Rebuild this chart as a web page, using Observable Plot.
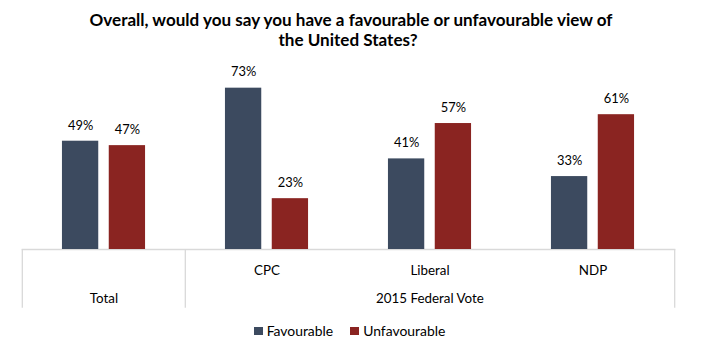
<!DOCTYPE html>
<html>
<head>
<meta charset="utf-8">
<script src="https://cdn.jsdelivr.net/npm/d3@7"></script>
<script src="https://cdn.jsdelivr.net/npm/@observablehq/plot@0.6"></script>
<style>
  html, body { margin: 0; padding: 0; background: #fff; }
  #chart { position: relative; width: 704px; height: 355px; overflow: hidden; }
  #chart > svg { position: absolute; left: 0; top: 0; }
  #legend { position: absolute; left: 0; top: 320px; width: 699px; }
  .lg-swatches { margin: 0 !important; }
  .lg-swatches-wrap { justify-content: center !important; min-height: 0 !important; height: 21px; }
  .lg-swatch { margin-right: 17px !important; }
  .lg-swatch:last-child { margin-right: 0 !important; }
  .lg-swatch > svg { margin-right: 4px !important; }
</style>
</head>
<body>
<div id="chart"><div id="legend"></div></div>
<script>
// ---- data ----
const titleLines = ["Overall, would you say you have a favourable or unfavourable view of", "the United States?"];
const groups = ["Total", "CPC", "Liberal", "NDP"];
const groupLabels = ["", "CPC", "Liberal", "NDP"];
const series = ["Favourable", "Unfavourable"];
const favourable = [49, 73, 41, 33];
const unfavourable = [47, 23, 57, 61];
const rowLabels = ["Total", "2015 Federal Vote"];
const rowLabelGroups = ["Total", "Liberal"];
const colors = ["#3c4a5f", "#8a2421"];

// ---- layout ----
const W = 704, H = 355;
const mL = 21.7, mR = 28.7, mT = 28, mB = 106;
const band = (W - mL - mR) / groups.length;
const half = band / 2;
const barW = 36.7, barOff = 23.4;
const innerInset = half - barOff - barW / 2;
const outerInset = half + barOff - barW / 2;
const FONT = "Lato, 'Open Sans', sans-serif";

const cv = document.createElement("canvas").getContext("2d");
function fit(text, weight, target) {
  cv.font = `${weight} 100px Lato`;
  const w = cv.measureText(text).width;
  return w > 0 ? 100 * target / w : 14;
}
const titleSize = fit(titleLines[0], "bold", 526);
const valueSize = fit("49%", "normal", 25.3);
const catSize = (fit("Total", "normal", 30.6) + fit("2015 Federal Vote", "normal", 110.6) + fit("CPC", "normal", 23.3)) / 3;
const legendSize = fit("Favourable", "normal", 66.6);

const rows = [];
groups.forEach((g, i) => {
  rows.push({group: g, series: series[0], value: favourable[i]});
  rows.push({group: g, series: series[1], value: unfavourable[i]});
});
const favRows = rows.filter(d => d.series === series[0]);
const unfRows = rows.filter(d => d.series === series[1]);
const catRows = groups.map((g, i) => ({group: g, label: groupLabels[i]}));
const bottomRows = rowLabels.map((l, i) => ({group: rowLabelGroups[i], label: l}));

const lineColor = "#d9d9d9";

const chart = Plot.plot({
  width: W,
  height: H,
  marginLeft: mL,
  marginRight: mR,
  marginTop: mT,
  marginBottom: mB,
  style: {fontFamily: FONT, background: "transparent", color: "#000"},
  x: {domain: groups, padding: 0, axis: null},
  y: {domain: [0, 100], axis: null},
  color: {domain: series, range: colors},
  marks: [
    Plot.ruleY([0], {stroke: lineColor, strokeWidth: 1.3}),
    Plot.ruleX(["Total", "CPC"], {x: d => d, dx: -half, stroke: lineColor, strokeWidth: 1.3, insetTop: H - mB - mT, insetBottom: -58.7}),
    Plot.ruleX(["NDP"], {x: d => d, dx: half, stroke: lineColor, strokeWidth: 1.3, insetTop: H - mB - mT, insetBottom: -58.7}),
    Plot.barY(favRows, {x: "group", y: "value", fill: "series", insetLeft: innerInset, insetRight: outerInset}),
    Plot.barY(unfRows, {x: "group", y: "value", fill: "series", insetLeft: outerInset, insetRight: innerInset}),
    Plot.text(favRows, {x: "group", y: "value", text: d => d.value + "%", dx: -barOff, dy: -11.7, lineAnchor: "bottom", fontSize: valueSize, fill: "#000"}),
    Plot.text(unfRows, {x: "group", y: "value", text: d => d.value + "%", dx: barOff, dy: -11.7, lineAnchor: "bottom", fontSize: valueSize, fill: "#000"}),
    Plot.text(catRows, {x: "group", text: "label", frameAnchor: "bottom", dy: 25, lineAnchor: "bottom", fontSize: catSize, fill: "#000"}),
    Plot.text(bottomRows, {x: "group", text: "label", frameAnchor: "bottom", dy: 53.5, lineAnchor: "bottom", fontSize: catSize, fill: "#000"}),
    Plot.text([titleLines[0]], {frameAnchor: "top", dx: 2, dy: -3, lineAnchor: "bottom", fontSize: titleSize, fontWeight: "bold", fill: "#000"}),
    Plot.text([titleLines[1]], {frameAnchor: "top", dx: -1, dy: 17, lineAnchor: "bottom", fontSize: titleSize, fontWeight: "bold", fill: "#000"})
  ]
});
document.getElementById("chart").insertBefore(chart, document.getElementById("legend"));

const legend = Plot.legend({
  color: {domain: series, range: colors},
  legend: "swatches",
  swatchWidth: 9,
  swatchHeight: 8,
  className: "lg",
  style: {fontFamily: FONT, fontSize: legendSize + "px", color: "#000"}
});
document.getElementById("legend").appendChild(legend);
</script>
</body>
</html>
